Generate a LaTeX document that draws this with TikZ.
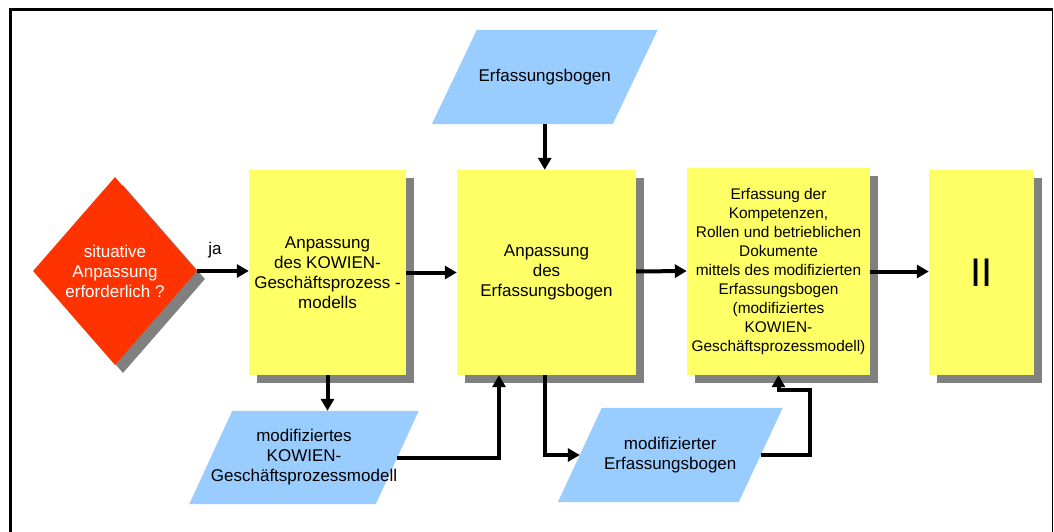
\documentclass[tikz,border=0pt]{standalone}
\usepackage{fontspec}
\setmainfont{Liberation Sans}
\usetikzlibrary{shapes.geometric,arrows.meta,shadows,backgrounds}
\definecolor{boxyellow}{HTML}{FFFF66}
\definecolor{docblue}{HTML}{99CCFF}
\definecolor{decred}{HTML}{FF3300}
\definecolor{shadowgray}{HTML}{808080}

% parallelogram document shape behind a named rectangle node
\newcommand\docshape[2]{%
  \fill[docblue] ([xshift=-#2]#1.south west) -- ([xshift=-#2]#1.south east)
    -- ([xshift=#2]#1.north east) -- ([xshift=#2]#1.north west) -- cycle;}

\begin{document}
\begin{tikzpicture}[x=1pt,y=-1pt,
  txt/.style={font=\fontsize{17pt}{20pt}\selectfont, align=center, inner sep=0pt},
  smalltxt/.style={font=\fontsize{15.4pt}{19pt}\selectfont, align=center, inner sep=0pt},
  stepbox/.style={txt, rectangle, fill=boxyellow,
    general shadow={shadow xshift=8pt, shadow yshift=-8pt, fill=shadowgray}},
  decision/.style={txt, diamond, fill=decred, text=white, minimum width=164pt, minimum height=188pt,
    general shadow={shadow xshift=8pt, shadow yshift=-8pt, fill=shadowgray}},
  doc/.style={txt, rectangle},
  arr/.style={line width=4pt, -{Triangle[length=12pt,width=13pt]}}]

\useasboundingbox (0,0) rectangle (1054,532);

% frame
\draw[line width=2.7pt] (10.7,532) -- (10.7,9.7) -- (1053,9.7);
\draw[line width=1.5pt] (1052.3,9.7) -- (1052.3,532);

% decision and process steps
\node[decision] (q) at (115,271) {situative\\Anpassung\\erforderlich ?};
\node[stepbox, minimum width=157pt, minimum height=205pt] (b1) at (327.5,272.5)
  {Anpassung\\des KOWIEN-\\Geschäftsprozess -\\modells};
\node[stepbox, minimum width=179pt, minimum height=205pt] (b2) at (546.5,272.5)
  {Anpassung\\des\\Erfassungsbogen};
\node[stepbox, smalltxt, minimum width=183pt, minimum height=207pt] (b3) at (778.5,271.5)
  {Erfassung der\\Kompetenzen,\\Rollen und betrieblichen\\Dokumente\\mittels des modifizierten\\Erfassungsbogen\\(modifiziertes\\KOWIEN-\\Geschäftsprozessmodell)};
\node[stepbox, font=\fontsize{40pt}{44pt}\selectfont, minimum width=105pt, minimum height=205pt] (b4) at (981.5,272.5)
  {II};

% documents
\node[doc, minimum width=180.5pt, minimum height=94pt] (eb) at (544.75,77) {Erfassungsbogen};
\node[doc, minimum width=181pt, minimum height=93pt] (mk) at (304,457.5)
  {modifiziertes\\KOWIEN-\\Geschäftsprozessmodell};
\node[doc, minimum width=180.5pt, minimum height=94pt] (me) at (670.25,455)
  {modifizierter\\Erfassungsbogen};
\begin{scope}[on background layer]
  \docshape{eb}{22.5pt}
  \docshape{mk}{21.5pt}
  \docshape{me}{22pt}
\end{scope}

% connectors
\node[txt] (ja) at (215,250) {ja};
\draw[arr] (q.east) -- (q.east -| b1.west);
\draw[arr] (b1.east) -- (b2.west);
\draw[arr] ([yshift=1pt]b2.east) -- ([yshift=0.5pt]b3.west);
\draw[arr] (b3.east) -- (b3.east -| b4.west);
\draw[arr] (eb.south) -- (eb.south |- b2.north);
\draw[arr] (b1.south) -- (b1.south |- mk.north);
\draw[arr] (mk.east) -| ([xshift=-47.5pt]b2.south);
\draw[arr] ([xshift=-1.5pt]b2.south) |- (me.west);
\draw[arr] (me.east) -- ++(49.5,0) |- ([yshift=-15pt]b3.south) -- (b3.south);
\end{tikzpicture}
\end{document}
